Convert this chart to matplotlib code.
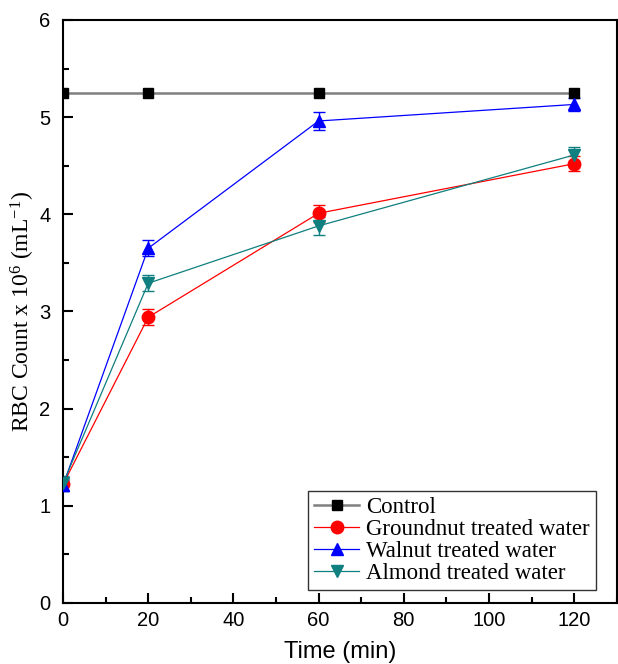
import matplotlib
matplotlib.use('Agg')
import matplotlib.pyplot as plt
from matplotlib.ticker import MultipleLocator

plt.rcParams['mathtext.fontset'] = 'custom'
plt.rcParams['mathtext.rm'] = 'Liberation Serif'
plt.rcParams['mathtext.it'] = 'Liberation Serif:italic'

# RBC counts (x10^6 per mL)
time_min = [0, 20, 60, 120]
control = [5.25, 5.25, 5.25, 5.25]
groundnut = [1.22, 2.94, 4.01, 4.52]
groundnut_err = [0.06, 0.08, 0.09, 0.08]
walnut = [1.21, 3.65, 4.96, 5.13]
walnut_err = [0.06, 0.08, 0.09, 0.07]
almond = [1.23, 3.29, 3.88, 4.61]
almond_err = [0.08, 0.08, 0.09, 0.08]

series = [
    ('Control', control, None, 's', '#7f7f7f', 'black', 1.8),
    ('Groundnut treated water', groundnut, groundnut_err, 'o', 'red', 'red', 0.9),
    ('Walnut treated water', walnut, walnut_err, '^', 'blue', 'blue', 0.9),
    ('Almond treated water', almond, almond_err, 'v', '#0f7f7f', '#0f7f7f', 0.9),
]

fig = plt.figure(figsize=(6.18, 6.64), dpi=100)
ax = fig.add_axes([0.102, 0.092, 0.896, 0.878])

for label, y, err, mk, lc, mc, lw in series:
    ax.plot(time_min, y, color=lc, lw=lw, marker=mk, ms=9 if mk != 's' else 7,
            mfc=mc, mec=mc, label=label, zorder=3)
    if err is not None:
        ax.errorbar(time_min, y, yerr=err, fmt='none', ecolor=lc,
                    elinewidth=1.0, capsize=4, capthick=1.0, zorder=2)

ax.set_xlim(0, 130)
ax.set_ylim(0, 6)
ax.xaxis.set_major_locator(MultipleLocator(20))
ax.xaxis.set_minor_locator(MultipleLocator(10))
ax.yaxis.set_major_locator(MultipleLocator(1))
ax.yaxis.set_minor_locator(MultipleLocator(0.5))
ax.tick_params(which='both', direction='in', top=False, right=False,
               width=1.5, labelsize=14.5, labelfontfamily='Liberation Sans')
ax.tick_params(which='major', length=7)
ax.tick_params(which='minor', length=4)
ax.tick_params(axis='y', which='major', pad=9)
ax.tick_params(axis='x', which='major', pad=6)
for s in ax.spines.values():
    s.set_linewidth(1.5)

ax.set_xlabel('Time (min)', fontsize=17, family='Liberation Sans', labelpad=8)
ax.set_ylabel(r'RBC Count x 10$^{6}$ (mL$^{-1}$)', fontsize=17,
              family='Liberation Serif', labelpad=2)

leg = ax.legend(loc='lower right', bbox_to_anchor=(0.962, 0.022),
                prop={'family': 'Liberation Serif', 'size': 16.5},
                frameon=True, fancybox=False, edgecolor='black',
                handlelength=2.0, labelspacing=0.05, borderpad=0.25,
                handletextpad=0.3, borderaxespad=0.0)
leg.get_frame().set_linewidth(1.0)

fig.savefig('out.png', dpi=100)
